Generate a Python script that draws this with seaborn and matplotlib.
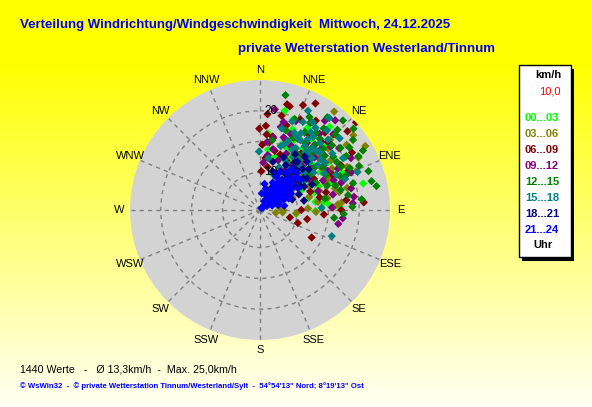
import numpy as np
import pandas as pd
import seaborn as sns
import matplotlib.pyplot as plt
from matplotlib.patches import Rectangle

# wind direction (deg, from N clockwise) and speed (km/h), per 3-hour block
dir_00 = [7.7, 12.4, 96, 91, 81, 81.6, 75.6, 83, 28, 35, 42, 50, 55, 22, 30, 46, 60, 66, 38, 48,
          18, 14, 25, 58, 70, 40, 52, 64, 32, 88, 20, 76, 20, 11,
          30, 40, 45, 52, 36, 26, 58, 62, 44, 34, 48, 56, 16, 68, 24, 72, 86, 6]
spd_00 = [13.8, 12.2, 9.8, 12.9, 14.8, 13.0, 21.2, 14.3, 14.0, 16.0, 12.5, 15.2, 17.5, 18.0, 19.2, 19.0, 13.5, 18.5, 10.5, 11.2,
          15.0, 20.5, 11.0, 20.0, 16.5, 21.5, 9.5, 11.5, 13.0, 16.8, 10.0, 12.0, 19.5, 12.6,
          15.5, 14.2, 16.8, 13.0, 18.2, 16.5, 15.6, 16.8, 10.8, 11.8, 13.8, 12.2, 12.8, 14.2, 14.8, 13.2, 15.2, 16.4]

dir_03 = [58.7, 51.3, 37, 63.7, 84.7, 85.8, 75.7, 77.3, 88, 90, 80, 22.5, 70, 75, 60, 65, 55, 45, 50, 40,
          68, 80, 92, 58, 35, 48, 62, 72, 95, 30, 44, 53, 96, 100,
          42, 52, 46, 38, 56, 64, 48, 60, 68, 40, 34, 74, 82, 88]
spd_03 = [23.9, 23.3, 23.9, 19.7, 17.2, 16.6, 18.5, 17.1, 11.7, 7.7, 7.0, 7.4, 9.5, 12.2, 14.0, 16.2, 18.0, 20.0, 12.5, 14.8,
          20.8, 15.0, 13.0, 10.0, 18.7, 16.6, 22.0, 14.0, 9.8, 11.0, 9.2, 21.5, 7.6, 6.5,
          15.8, 14.6, 12.8, 16.5, 16.0, 12.8, 18.8, 17.4, 15.5, 12.0, 14.5, 16.6, 13.4, 15.8]

dir_06 = [14.4, 4.5, 359.5, 27.5, 22.3, 47.6, 85.8, 109, 101, 90, 94, 83.4, 61, 12.9, 17.4, 4, 2, 6, 10, 20,
          25, 32, 35, 40, 45, 52, 58, 64, 70, 30, 16, 55, 75, 40, 24, 48, 2, 118, 104, 90, 9.8,
          28, 36, 44, 50, 42, 20, 14, 60, 33, 26, 66, 8, 5, 78]
spd_06 = [21.6, 19.5, 17.1, 23.4, 22.3, 25.0, 20.8, 10.4, 11.7, 10.6, 14.3, 18.0, 18.9, 19.6, 18.3, 17.6, 14.5, 12.4, 11.0, 13.5,
          17.5, 21.0, 12.8, 16.3, 19.5, 15.0, 21.5, 17.0, 12.6, 15.0, 21.4, 11.5, 15.0, 20.3, 20.0, 23.0, 10.2, 13.4, 8.9, 17.1, 16.0,
          13.0, 15.2, 13.6, 17.6, 18.8, 16.0, 13.8, 14.0, 18.5, 15.4, 19.6, 15.0, 16.2, 13.8]

dir_09 = [8.4, 10.4, 8, 40, 60.3, 95.7, 85.8, 82, 76.7, 71.5, 67.6, 22, 15, 30, 35, 45, 50, 25, 55, 62,
          38, 48, 32, 58, 42, 18, 28, 52, 65, 72, 20, 44, 88, 78, 6, 36, 48, 100,
          26, 34, 40, 46, 54, 30, 60, 44, 22, 12, 38, 68, 50, 4, 14]
spd_09 = [20.4, 15.8, 12.9, 22.9, 20.9, 17.4, 19.0, 19.3, 19.1, 17.8, 19.9, 19.5, 18.7, 20.3, 17.2, 18.0, 14.5, 14.0, 16.5, 18.2,
          13.0, 12.0, 11.5, 13.3, 15.5, 16.3, 17.0, 20.2, 15.2, 13.8, 12.5, 21.0, 15.6, 16.0, 15.0, 21.8, 19.3, 16.8,
          15.5, 14.6, 17.6, 16.2, 14.0, 18.4, 16.6, 13.8, 17.2, 14.0, 19.6, 16.8, 16.8, 11.6, 17.8]

dir_12 = [12.5, 36, 42.8, 49, 61.4, 70.3, 75.5, 78.4, 80.4, 96, 92.7, 52.4, 20.9, 45, 55, 65, 58, 67, 74, 40,
          30, 50, 62, 45, 35, 55, 70, 25, 84, 38, 60, 53, 66, 72, 46, 56, 80, 28, 18, 88, 64, 42,
          34, 42, 48, 58, 62, 52, 36, 44, 68, 76, 30, 54, 40, 10]
spd_12 = [23.0, 22.5, 23.7, 24.0, 22.1, 22.6, 22.6, 23.2, 18.4, 16.0, 17.5, 20.4, 19.7, 21.2, 21.6, 20.0, 18.6, 18.0, 19.6, 19.0,
          18.5, 17.5, 16.0, 15.5, 14.8, 13.8, 15.5, 16.8, 20.5, 20.7, 23.2, 22.8, 21.5, 16.8, 18.2, 16.2, 14.6, 21.0, 17.5, 18.9, 14.0, 13.0,
          17.0, 16.6, 19.6, 20.4, 18.8, 15.0, 19.4, 22.0, 19.0, 17.4, 20.2, 18.6, 17.8, 15.4]

dir_15 = [359, 25.8, 37, 110, 88, 68.7, 30, 35, 40, 45, 50, 28, 33, 42, 38, 47, 55, 22, 26, 60,
          52, 44, 31, 20, 18, 57, 36, 48, 65, 40, 24, 58, 34, 46, 30, 50, 62, 27, 70, 15, 48,
          32, 38, 42, 28, 36, 46, 52, 40, 24, 30, 44, 54, 34, 26, 20, 9]
spd_15 = [13.4, 21.8, 22.6, 16.3, 13.9, 20.9, 15.5, 16.5, 17.0, 15.8, 16.8, 18.0, 19.0, 18.5, 14.2, 13.6, 14.5, 16.0, 13.0, 15.9,
          18.8, 19.8, 20.5, 19.2, 14.8, 12.5, 12.0, 11.0, 17.5, 20.8, 11.5, 19.8, 17.8, 17.4, 12.6, 13.2, 12.0, 17.2, 18.6, 17.6, 21.3,
          14.0, 15.8, 13.5, 15.0, 18.6, 15.0, 15.8, 16.2, 17.6, 17.0, 17.2, 17.0, 20.0, 19.8, 15.2, 12.4]

dir_18 = [30, 45, 60, 20, 40, 52, 65, 33, 47, 72, 26, 40, 55, 18, 35, 48, 62, 30, 42, 56,
          24, 38, 50, 44, 36, 58, 68, 28, 52, 46, 32, 40, 64, 15, 78,
          34, 42, 38, 48, 54, 44, 28, 60, 36, 50, 24, 40]
spd_18 = [5.5, 6.2, 6.9, 7.3, 7.6, 8.1, 8.5, 8.9, 9.3, 9.4, 9.9, 10.2, 10.8, 10.5, 11.1, 11.6, 12.0, 12.3, 12.7, 13.1,
          13.3, 13.8, 14.2, 12.2, 10.0, 9.0, 10.7, 8.0, 11.9, 13.5, 14.6, 15.2, 13.3, 12.0, 11.2,
          9.5, 11.2, 12.5, 10.4, 12.6, 14.8, 11.0, 11.5, 13.5, 9.6, 10.4, 8.6]

dir_21 = [35, 50, 40, 60, 25, 45, 55, 30, 70, 40, 50, 20, 60, 35, 45, 75, 28, 55, 65, 38,
          48, 15, 32, 58, 42, 25, 52, 68, 36, 46, 30, 56, 40, 22, 50, 44, 35, 60, 48, 10,
          80, 6, 53, 62, 27,
          38, 42, 52, 30, 46, 58, 34, 48, 40, 55, 28, 65, 45, 38]
spd_21 = [4.3, 4.5, 5.0, 5.2, 5.5, 5.6, 5.8, 6.0, 6.0, 6.3, 6.5, 6.6, 6.8, 7.0, 7.2, 7.0, 7.4, 7.5, 7.7, 7.8,
          8.0, 7.5, 8.3, 8.4, 8.6, 8.8, 9.0, 8.9, 9.2, 9.5, 9.8, 10.0, 10.3, 10.1, 10.6, 11.0, 11.3, 11.0, 11.8, 8.2,
          7.9, 6.6, 12.0, 9.6, 10.7,
          5.8, 7.5, 7.8, 8.5, 6.8, 6.4, 9.6, 10.5, 9.0, 9.5, 6.4, 8.2, 12.4, 12.2]

hours = ['00...03', '03...06', '06...09', '09...12', '12...15', '15...18', '18...21', '21...24']
colors = ['#00ff00', '#808000', '#800000', '#800080', '#008000', '#008080', '#000080', '#0000ff']
dirs = [dir_00, dir_03, dir_06, dir_09, dir_12, dir_15, dir_18, dir_21]
spds = [spd_00, spd_03, spd_06, spd_09, spd_12, spd_15, spd_18, spd_21]

compass = ['N', 'NNE', 'NE', 'ENE', 'E', 'ESE', 'SE', 'SSE',
           'S', 'SSW', 'SW', 'WSW', 'W', 'WNW', 'NW', 'NNW']

frames = []
for h, d, s in zip(hours, dirs, spds):
    frames.append(pd.DataFrame({'theta': np.deg2rad(d), 'speed': s, 'Uhr': h}))
df = pd.concat(frames, ignore_index=True)

plt.rcParams['font.family'] = ['Liberation Sans', 'DejaVu Sans']

W, H = 592, 407
fig = plt.figure(figsize=(W / 100, H / 100), dpi=100)

# background gradient
bg = fig.add_axes([0, 0, 1, 1])
yy = np.linspace(0, 1, 400)
blend = np.clip((yy - 0.15) / 0.85, 0, 1)
img = np.zeros((400, 1, 3))
img[:, 0, 0] = 1.0
img[:, 0, 1] = 1.0
img[:, 0, 2] = blend * 0.96
bg.imshow(img, aspect='auto', extent=[0, 1, 1, 0])
bg.set_xlim(0, 1)
bg.set_ylim(1, 0)
bg.axis('off')

cx, cy, R = 260, 210, 130
ax = fig.add_axes([(cx - R) / W, (H - cy - R) / H, 2 * R / W, 2 * R / H], projection='polar')
ax.set_facecolor('#d3d3d3')
ax.set_theta_zero_location('N')
ax.set_theta_direction(-1)

sns.scatterplot(data=df, x='theta', y='speed', hue='Uhr', hue_order=hours, palette=colors,
                marker='D', s=18, linewidth=0, legend=False, ax=ax, zorder=3)

ax.set_ylim(3.9, 25)
ax.set_yticks([10, 15, 20])
ax.set_yticklabels([])
for v in [10, 20]:
    ax.annotate(str(v), xy=(0, v), xytext=(3, 0), textcoords='offset points',
                ha='left', va='center', fontsize=8.5, zorder=10)
ax.set_thetagrids(np.arange(0, 360, 22.5), compass, fontsize=8)
ax.tick_params(axis='x', pad=-3)
ax.grid(True, color='#808080', linestyle=(0, (3, 3)), linewidth=1)
ax.spines['polar'].set_visible(False)
ax.set_xlabel('')
ax.set_ylabel('')

# titles
fig.text(20 / W, 1 - 25 / H, 'Verteilung Windrichtung/Windgeschwindigkeit  Mittwoch, 24.12.2025',
         color='#0000ff', fontsize=9.5, fontweight='bold', va='center', ha='left')
fig.text(238 / W, 1 - 49 / H, 'private Wetterstation Westerland/Tinnum',
         color='#0000ff', fontsize=9.5, fontweight='bold', va='center', ha='left')

# legend box
fig.patches.append(Rectangle((522 / W, 1 - 261 / H), 52 / W, 192 / H, transform=fig.transFigure,
                             facecolor='black', edgecolor='none', zorder=5))
fig.patches.append(Rectangle((519 / W, 1 - 257 / H), 52 / W, 192 / H, transform=fig.transFigure,
                             facecolor='white', edgecolor='black', linewidth=1, zorder=6))
fig.text(548 / W, 1 - 75 / H, 'km/h', fontsize=8, fontweight='bold', ha='center', va='center', zorder=7)
fig.text(561 / W, 1 - 92 / H, '10,0', fontsize=8, color='red', ha='right', va='center', zorder=7)
for i, (h, c) in enumerate(zip(hours, colors)):
    fig.text(542 / W, 1 - (118 + 16 * i) / H, h, fontsize=8, fontweight='bold', color=c,
             ha='center', va='center', zorder=7)
fig.text(543 / W, 1 - 245 / H, 'Uhr', fontsize=8, fontweight='bold', ha='center', va='center', zorder=7)

# footer
fig.text(20 / W, 1 - 369 / H, '1440 Werte   -   Ø 13,3km/h  -  Max. 25,0km/h',
         fontsize=7.7, ha='left', va='center')
fig.text(20 / W, 1 - 386 / H,
         '© WsWin32  -  © private Wetterstation Tinnum/Westerland/Sylt  -  54°54\'13" Nord; 8°19\'13" Ost',
         fontsize=5.6, fontweight='bold', color='#0000ff', ha='left', va='center')

fig.savefig('out.png', dpi=100)
